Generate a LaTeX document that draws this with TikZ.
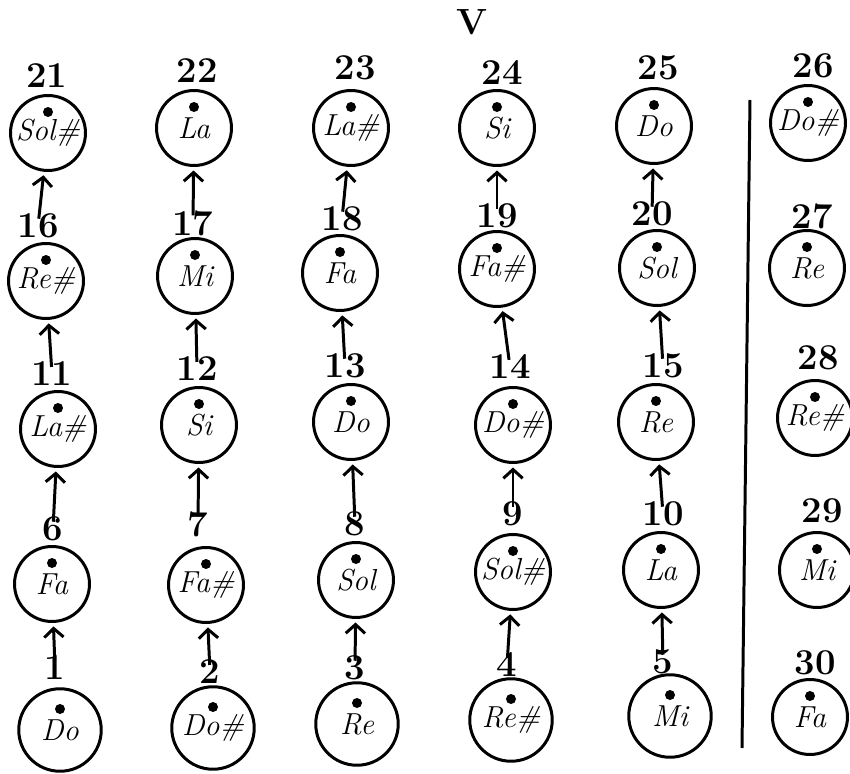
\documentclass[tikz,border=0pt]{standalone}
\usetikzlibrary{arrows.meta}

\tikzset{
  note/.style={draw,circle,line width=1.7pt,minimum size=1.5cm,inner sep=0pt,
    font=\LARGE\itshape,
    path picture={\fill ([yshift=0.42cm]path picture bounding box.center) circle (0.1cm);}},
  bignote/.style={note,minimum size=1.65cm},
  num/.style={font=\huge\bfseries,inner sep=1pt},
  up/.style={-{Straight Barb[length=5pt,width=11pt]},line width=1.7pt,
    shorten >=2pt,shorten <=-4pt}
}

\begin{document}
\begin{tikzpicture}[x=0.02cm,y=-0.02cm]
  \useasboundingbox (0,0) rectangle (850,774);

  \node[num] (ttl) at (472,22) {V};

  % bottom row
  \foreach \k/\px/\py/\nx/\ny/\txt in {
      1/60/730/55/668/Do, 2/213/728/210/672/Do\#, 3/357/724/355/668/Re,
      4/511/720/507/665/Re\#, 5/670/716/663/662/Mi}
  {
    \node[bignote] (c\k) at (\px,\py) {\raisebox{-5pt}{\txt}};
    \node[num] (n\k) at (\nx,\ny) {\k};
  }

  % upper rows
  \foreach \k/\px/\py/\nx/\ny/\txt in {
      6/52/584/53/529/Fa, 7/206/585/198/524/Fa\#, 8/356/580/355/524/Sol,
      9/513/572/513/514/Sol\#, 10/661/570/663/514/La,
      11/58/429/52/374/La\#, 12/199/425/197/369/Si, 13/351/422/345/366/Do,
      14/513/425/510/367/Do\#, 15/656/422/663/366/Re,
      16/46/281/38/226/Re\#, 17/195/276/193/223/Mi, 18/340/273/342/219/Fa,
      19/497/269/497/216/Fa\#, 20/657/268/652/214/Sol,
      21/48/133/47/76/Sol\#, 22/194/128/197/71/La, 23/351/128/355/68/La\#,
      24/497/128/502/73/Si, 25/654/126/658/68/Do}
  {
    \node[note] (c\k) at (\px,\py) {\raisebox{-5pt}{\txt}};
    \node[num] (n\k) at (\nx,\ny) {\k};
  }

  % separate column
  \foreach \k/\px/\py/\nx/\ny/\txt in {
      26/808/123/813/66/Do\#, 27/807/268/812/216/Re, 28/815/418/818/358/Re\#,
      29/817/570/822/511/Mi, 30/810/717/815/663/Fa}
  {
    \node[note] (c\k) at (\px,\py) {\raisebox{-5pt}{\txt}};
    \node[num] (n\k) at (\nx,\ny) {\k};
  }

  % arrows up the columns
  \foreach \k [evaluate=\k as \m using int(\k+5)] in {1,...,20}
    \draw[up] (n\k) -- (c\m);

  \draw[line width=1.7pt] (750,100) -- (742,748);
\end{tikzpicture}
\end{document}
